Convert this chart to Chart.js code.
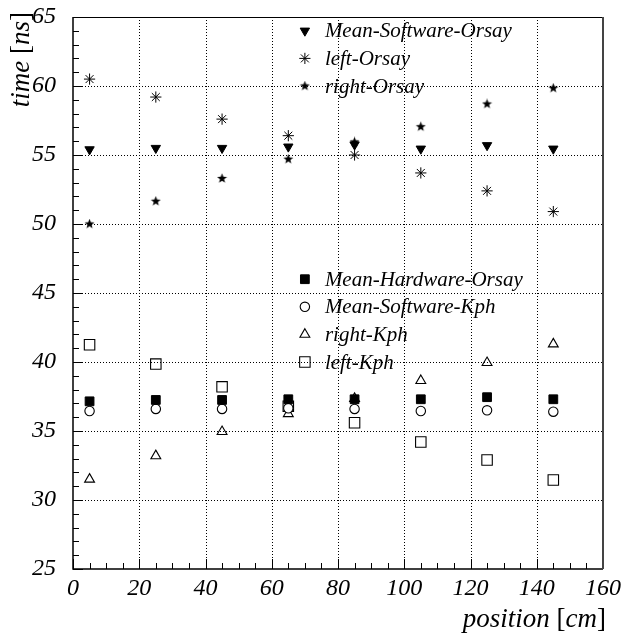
<!DOCTYPE html>
<html>
<head>
<meta charset="utf-8">
<script src="https://cdn.jsdelivr.net/npm/chart.js@4/dist/chart.umd.min.js"></script>
<style>
  html, body { margin: 0; padding: 0; background: #fff; }
  canvas { display: block; }
</style>
</head>
<body>
<canvas id="c" width="626" height="636" style="width:626px;height:636px"></canvas>
<script>
// Scan positions along the bar (cm)
const positions = [5, 25, 45, 65, 85, 105, 125, 145];

// Orsay electronics (ns)
const meanSoftwareOrsay = [55.4, 55.5, 55.5, 55.6, 55.75, 55.45, 55.7, 55.45];
const leftOrsay         = [60.5, 59.2, 57.6, 56.4, 55.0, 53.7, 52.4, 50.9];
const rightOrsay        = [50.0, 51.65, 53.3, 54.7, 55.95, 57.05, 58.7, 59.85];
const meanHardwareOrsay = [37.15, 37.25, 37.25, 37.3, 37.3, 37.3, 37.45, 37.3];

// Kph electronics (ns)
const meanSoftwareKph   = [36.45, 36.6, 36.6, 36.65, 36.6, 36.45, 36.5, 36.4];
const rightKph          = [31.5, 33.2, 34.95, 36.25, 37.35, 38.65, 39.95, 41.3];
const leftKph           = [41.25, 39.85, 38.2, 36.8, 35.6, 34.2, 32.9, 31.45];

// Axis ticks
const xTicks = [0, 20, 40, 60, 80, 100, 120, 140, 160];
const yTicks = [25, 30, 35, 40, 45, 50, 55, 60, 65];

// Legend anchors in data units (x, y of marker)
const legendX = 70;
const legendYTop = [64, 62, 60];
const legendYBottom = [46, 44, 42, 40];

const SERIF = '"Liberation Serif", "Times New Roman", serif';

// Filled five-pointed star marker
function makeStar(size) {
  const cv = document.createElement('canvas');
  cv.width = size; cv.height = size;
  const g = cv.getContext('2d');
  const c = size / 2, ro = size / 2 - 0.3, ri = ro * 0.42;
  g.beginPath();
  for (let i = 0; i < 10; i++) {
    const r = i % 2 === 0 ? ro : ri;
    const a = -Math.PI / 2 + i * Math.PI / 5;
    const px = c + r * Math.cos(a), py = c + r * Math.sin(a);
    if (i === 0) g.moveTo(px, py); else g.lineTo(px, py);
  }
  g.closePath();
  g.fillStyle = '#000';
  g.fill();
  return cv;
}
const starImg = makeStar(11);

const pts = (ys) => positions.map((x, i) => ({ x, y: ys[i] }));

const series = [
  { label: 'Mean-Software-Orsay', data: meanSoftwareOrsay, style: 'triangle', rot: 180, r: 5.4, fill: '#000', bw: 1, group: 'top' },
  { label: 'left-Orsay',          data: leftOrsay,         style: 'star',     rot: 0,   r: 5.6, fill: '#000', bw: 1, group: 'top' },
  { label: 'right-Orsay',         data: rightOrsay,        style: starImg,    rot: 0,   r: 5.5, fill: '#000', bw: 1, group: 'top' },
  { label: 'Mean-Hardware-Orsay', data: meanHardwareOrsay, style: 'rect',     rot: 0,   r: 6.2, fill: '#000', bw: 1, group: 'bottom' },
  { label: 'Mean-Software-Kph',   data: meanSoftwareKph,   style: 'circle',   rot: 0,   r: 4.7, fill: '#fff', bw: 1.1, group: 'bottom' },
  { label: 'right-Kph',           data: rightKph,          style: 'triangle', rot: 0,   r: 5.7, fill: 'rgba(0,0,0,0)', bw: 1.1, group: 'bottom' },
  { label: 'left-Kph',            data: leftKph,           style: 'rect',     rot: 0,   r: 7.4, fill: 'rgba(0,0,0,0)', bw: 1.1, group: 'bottom' }
];

const datasets = series.map(s => ({
  label: s.label,
  data: pts(s.data),
  pointStyle: s.style,
  pointRotation: s.rot,
  pointRadius: s.r,
  pointHoverRadius: s.r,
  pointBackgroundColor: s.fill,
  pointBorderColor: '#000',
  pointBorderWidth: s.bw,
  showLine: false
}));

// Grid, inward ticks, frame, legend and mixed-style axis titles
const framePlugin = {
  id: 'frame',
  beforeDatasetsDraw(chart) {
    const { ctx, chartArea: a, scales } = chart;
    const xs = scales.x, ys = scales.y;
    ctx.save();
    ctx.strokeStyle = '#000';
    ctx.lineWidth = 1;
    ctx.setLineDash([1, 2]);
    xTicks.forEach(v => {
      if (v === xTicks[0] || v === xTicks[xTicks.length - 1]) return;
      const px = Math.round(xs.getPixelForValue(v)) + 0.5;
      ctx.beginPath(); ctx.moveTo(px, a.top); ctx.lineTo(px, a.bottom); ctx.stroke();
    });
    yTicks.forEach(v => {
      if (v === yTicks[0] || v === yTicks[yTicks.length - 1]) return;
      const py = Math.round(ys.getPixelForValue(v)) + 0.5;
      ctx.beginPath(); ctx.moveTo(a.left, py); ctx.lineTo(a.right, py); ctx.stroke();
    });
    ctx.setLineDash([]);

    // minor + major ticks pointing into the plot
    ctx.lineWidth = 1;
    for (let v = 0; v <= 160; v += 5) {
      const px = Math.round(xs.getPixelForValue(v)) + 0.5;
      const len = v % 20 === 0 ? 10 : 6;
      ctx.beginPath(); ctx.moveTo(px, a.bottom); ctx.lineTo(px, a.bottom - len); ctx.stroke();
    }
    for (let v = 25; v <= 65; v += 1) {
      const py = Math.round(ys.getPixelForValue(v)) + 0.5;
      const len = v % 5 === 0 ? 10 : 6;
      ctx.beginPath(); ctx.moveTo(a.left, py); ctx.lineTo(a.left + len, py); ctx.stroke();
    }

    // frame
    ctx.lineWidth = 1.5;
    ctx.beginPath();
    ctx.moveTo(a.left, a.top); ctx.lineTo(a.left, a.bottom); ctx.lineTo(a.right, a.bottom);
    ctx.stroke();
    ctx.lineWidth = 1.2;
    ctx.beginPath(); ctx.moveTo(a.left, a.top + 0.5); ctx.lineTo(a.right, a.top + 0.5); ctx.stroke();
    ctx.strokeStyle = '#444';
    ctx.lineWidth = 2;
    ctx.beginPath(); ctx.moveTo(a.right, a.top); ctx.lineTo(a.right, a.bottom); ctx.stroke();
    ctx.restore();
  },
  afterDatasetsDraw(chart) {
    const { ctx, scales } = chart;
    const xs = scales.x, ys = scales.y;
    ctx.save();
    // legend entries
    const drawEntry = (s, yv) => {
      const px = xs.getPixelForValue(legendX);
      const py = ys.getPixelForValue(yv);
      ctx.fillStyle = s.fill;
      ctx.strokeStyle = '#000';
      ctx.lineWidth = s.bw;
      Chart.helpers.drawPoint(ctx, {
        pointStyle: s.style, rotation: s.rot, radius: s.r, borderWidth: s.bw
      }, px, py);
      ctx.fillStyle = '#000';
      ctx.font = 'italic 21px ' + SERIF;
      ctx.textAlign = 'left';
      ctx.textBaseline = 'middle';
      ctx.fillText(s.label, px + 20, py + 1);
    };
    const top = series.filter(s => s.group === 'top');
    const bottom = series.filter(s => s.group === 'bottom');
    top.forEach((s, i) => drawEntry(s, legendYTop[i]));
    bottom.forEach((s, i) => drawEntry(s, legendYBottom[i]));

    // axis titles with italic variables and upright brackets
    const segs = (parts) => parts.map(([t, it]) => ({ t, font: (it ? 'italic ' : '') + '27px ' + SERIF }));
    const width = (list) => list.reduce((w, p) => { ctx.font = p.font; return w + ctx.measureText(p.t).width; }, 0);
    const drawSegs = (list, x0, y0) => {
      let x = x0;
      list.forEach(p => { ctx.font = p.font; ctx.fillText(p.t, x, y0); x += ctx.measureText(p.t).width; });
    };
    ctx.fillStyle = '#000';
    ctx.textAlign = 'left';
    ctx.textBaseline = 'alphabetic';

    const xt = segs([['position', true], [' [', false], ['cm', true], [']', false]]);
    const xw = width(xt);
    drawSegs(xt, chart.chartArea.right + 3 - xw, 627);

    const yt = segs([['time', true], [' [', false], ['ns', true], [']', false]]);
    const yw = width(yt);
    ctx.translate(29, 12);
    ctx.rotate(-Math.PI / 2);
    drawSegs(yt, -yw, 0);
    ctx.restore();
  }
};

new Chart(document.getElementById('c'), {
  type: 'scatter',
  data: { datasets },
  options: {
    responsive: false,
    animation: false,
    events: [],
    layout: { padding: { top: 17, right: 23, left: 0, bottom: 0 } },
    plugins: { legend: { display: false }, tooltip: { enabled: false } },
    scales: {
      x: {
        type: 'linear', min: 0, max: 160,
        afterBuildTicks: (s) => { s.ticks = xTicks.map(v => ({ value: v })); },
        afterFit: (s) => { s.height = 67; s.paddingLeft = 0; s.paddingRight = 0; },
        grid: { display: false, drawTicks: false },
        border: { display: false },
        ticks: { color: '#000', padding: 5, maxRotation: 0, autoSkip: false,
                 font: { family: SERIF, size: 24, style: 'italic' } }
      },
      y: {
        type: 'linear', min: 25, max: 65,
        afterBuildTicks: (s) => { s.ticks = yTicks.map(v => ({ value: v })); },
        afterFit: (s) => { s.width = 73; s.paddingTop = 0; s.paddingBottom = 0; },
        grid: { display: false, drawTicks: false },
        border: { display: false },
        ticks: { color: '#000', padding: 17, autoSkip: false,
                 font: { family: SERIF, size: 24, style: 'italic' } }
      }
    }
  },
  plugins: [framePlugin]
});
</script>
</body>
</html>
